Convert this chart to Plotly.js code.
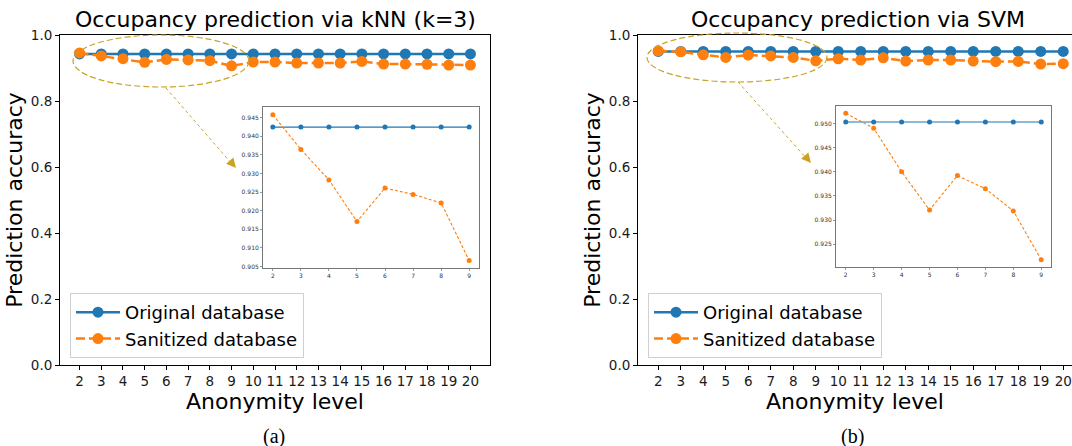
<!DOCTYPE html>
<html>
<head>
<meta charset="utf-8">
<script src="https://cdn.plot.ly/plotly-3.0.1.min.js"></script>
<style>html,body{margin:0;padding:0;background:#fff;}#chart{width:1072px;height:446px;}</style>
</head>
<body>
<div id="chart"></div>
<script>
// ---------- data ----------
const anonymityLevels = [2, 3, 4, 5, 6, 7, 8, 9, 10, 11, 12, 13, 14, 15, 16, 17, 18, 19, 20];
const knnOriginal  = [0.9425, 0.9425, 0.9425, 0.9425, 0.9425, 0.9425, 0.9425, 0.9425, 0.9425, 0.9425,
                      0.9425, 0.9425, 0.9425, 0.9425, 0.9425, 0.9425, 0.9425, 0.9425, 0.9425];
const knnSanitized = [0.9458, 0.9365, 0.9283, 0.9171, 0.9261, 0.9244, 0.9221, 0.9066, 0.918, 0.918,
                      0.915, 0.915, 0.915, 0.920, 0.912, 0.912, 0.911, 0.909, 0.909];
const svmOriginal  = [0.9503, 0.9503, 0.9503, 0.9503, 0.9503, 0.9503, 0.9503, 0.9503, 0.9503, 0.9503,
                      0.9503, 0.9503, 0.9503, 0.9503, 0.9503, 0.9503, 0.9503, 0.9503, 0.9503];
const svmSanitized = [0.9521, 0.9490, 0.9400, 0.9321, 0.9392, 0.9365, 0.9319, 0.9218, 0.928, 0.924,
                      0.931, 0.921, 0.924, 0.924, 0.921, 0.919, 0.920, 0.912, 0.913];
const insetCount = 8; // zoomed view shows anonymity levels 2..9
const mainYTicks = [0.0, 0.2, 0.4, 0.6, 0.8, 1.0];
const mainYTickLabels = ['0.0', '0.2', '0.4', '0.6', '0.8', '1.0'];
const knnInsetYTicks = [0.905, 0.910, 0.915, 0.920, 0.925, 0.930, 0.935, 0.940, 0.945];
const svmInsetYTicks = [0.925, 0.930, 0.935, 0.940, 0.945, 0.950];
const seriesNames = ['Original database', 'Sanitized database'];
const titles = ['Occupancy prediction via kNN (k=3)', 'Occupancy prediction via SVM'];
const captions = ['(a)', '(b)'];

// ---------- style ----------
const W = 1072, H = 446;
const BLUE = '#1f77b4', ORANGE = '#ff7f0e', GOLD = '#c9a227';
const FONT = 'DejaVu Sans, sans-serif';
const px = x => x / W;
const py = y => 1 - y / H;

const insetLevels = anonymityLevels.slice(0, insetCount);

function mainTrace(y, name, color, dash, xa, ya, legend) {
  return {x: anonymityLevels, y: y, name: name, type: 'scatter', mode: 'lines+markers',
    xaxis: xa, yaxis: ya, legend: legend,
    line: {color: color, width: 2.5, dash: dash}, marker: {color: color, size: 11}};
}
function insetTrace(y, color, dash, xa, ya) {
  return {x: insetLevels, y: y.slice(0, insetCount), type: 'scatter', mode: 'lines+markers',
    xaxis: xa, yaxis: ya, showlegend: false,
    line: {color: color, width: 1.1, dash: dash}, marker: {color: color, size: 5}};
}

const data = [
  mainTrace(knnOriginal, seriesNames[0], BLUE, 'solid', 'x', 'y', 'legend'),
  mainTrace(knnSanitized, seriesNames[1], ORANGE, '9px,4px', 'x', 'y', 'legend'),
  mainTrace(svmOriginal, seriesNames[0], BLUE, 'solid', 'x2', 'y2', 'legend2'),
  mainTrace(svmSanitized, seriesNames[1], ORANGE, '9px,4px', 'x2', 'y2', 'legend2'),
  insetTrace(knnOriginal, BLUE, 'solid', 'x3', 'y3'),
  insetTrace(knnSanitized, ORANGE, '3px,2px', 'x3', 'y3'),
  insetTrace(svmOriginal, BLUE, 'solid', 'x4', 'y4'),
  insetTrace(svmSanitized, ORANGE, '3px,2px', 'x4', 'y4')
];

const tickFont = {family: FONT, size: 13.5, color: '#1a1a1a'};
const titleFont = {family: FONT, size: 22, color: '#000'};
function mainX(domain, range, anchor, mirror) {
  return {domain: domain, range: range, anchor: anchor, tickvals: anonymityLevels,
    ticktext: anonymityLevels.map(String), ticks: 'outside', ticklen: 4, tickwidth: 1,
    tickcolor: '#000', showline: true, linecolor: '#000', linewidth: 1, mirror: mirror,
    showgrid: false, zeroline: false, tickfont: tickFont,
    title: {text: 'Anonymity level', font: titleFont, standoff: 3}};
}
function mainY(domain, anchor, mirror) {
  return {domain: domain, range: [0, 1], anchor: anchor, tickvals: mainYTicks, ticktext: mainYTickLabels,
    ticks: 'outside', ticklen: 4, tickwidth: 1, tickcolor: '#000', showline: true, linecolor: '#000',
    linewidth: 1, mirror: mirror, showgrid: false, zeroline: false, tickfont: tickFont,
    title: {text: 'Prediction accuracy', font: titleFont, standoff: 2}};
}
const insetTickFont = {family: FONT, size: 6, color: '#333'};
function insetX(domain, anchor) {
  return {domain: domain, range: [1.65, 9.35], anchor: anchor, tickvals: insetLevels,
    ticktext: insetLevels.map(String), ticks: 'outside', ticklen: 2, tickwidth: 0.6, tickcolor: '#555',
    showline: true, linecolor: '#777', linewidth: 1, mirror: true, showgrid: false, zeroline: false,
    tickfont: insetTickFont};
}
function insetY(domain, range, ticks, anchor) {
  return {domain: domain, range: range, anchor: anchor, tickvals: ticks,
    ticktext: ticks.map(v => v.toFixed(3)), ticks: 'outside', ticklen: 2, tickwidth: 0.6, tickcolor: '#555',
    showline: true, linecolor: '#777', linewidth: 1, mirror: true, showgrid: false, zeroline: false,
    tickfont: insetTickFont};
}

const legendStyle = (x) => ({x: x, y: py(293), xanchor: 'left', yanchor: 'top', bgcolor: '#fff',
  bordercolor: '#d0d0d0', borderwidth: 1, itemwidth: 44, font: {family: FONT, size: 18, color: '#000'}});

const mainYDomain = [py(365), py(35)];
const layout = {
  width: W, height: H, margin: {l: 0, r: 0, t: 0, b: 0},
  paper_bgcolor: '#fff', plot_bgcolor: 'rgba(0,0,0,0)',
  font: {family: FONT},
  xaxis: mainX([px(60), px(490)], [1.1, 20.9], 'y', true),
  yaxis: mainY(mainYDomain, 'x', true),
  xaxis2: mainX([px(638), 1], [1.1, 20.39], 'y2', true),
  yaxis2: mainY(mainYDomain, 'x2', false),
  xaxis3: insetX([px(263), px(479)], 'y3'),
  yaxis3: insetY([py(268), py(107)], [0.9046, 0.9479], knnInsetYTicks, 'x3'),
  xaxis4: insetX([px(836), px(1051)], 'y4'),
  yaxis4: insetY([py(267), py(106)], [0.9203, 0.9536], svmInsetYTicks, 'x4'),
  legend: legendStyle(px(70)),
  legend2: legendStyle(px(648)),
  annotations: [
    {text: titles[0], xref: 'paper', yref: 'paper', x: px(275), y: py(19), xanchor: 'center', yanchor: 'middle',
     showarrow: false, font: {family: FONT, size: 22, color: '#000'}},
    {text: titles[1], xref: 'paper', yref: 'paper', x: px(858), y: py(19), xanchor: 'center', yanchor: 'middle',
     showarrow: false, font: {family: FONT, size: 22, color: '#000'}},
    {text: captions[0], xref: 'paper', yref: 'paper', x: px(274), y: py(436), xanchor: 'center', yanchor: 'middle',
     showarrow: false, font: {family: 'Liberation Serif, serif', size: 20, color: '#000'}},
    {text: captions[1], xref: 'paper', yref: 'paper', x: px(852), y: py(436), xanchor: 'center', yanchor: 'middle',
     showarrow: false, font: {family: 'Liberation Serif, serif', size: 20, color: '#000'}},
    {text: '', xref: 'paper', yref: 'paper', x: px(236), y: py(168), ax: -6, ay: -7, showarrow: true,
     arrowhead: 2, arrowsize: 1.6, arrowwidth: 1.2, arrowcolor: GOLD},
    {text: '', xref: 'paper', yref: 'paper', x: px(811), y: py(163), ax: -6, ay: -7, showarrow: true,
     arrowhead: 2, arrowsize: 1.6, arrowwidth: 1.2, arrowcolor: GOLD}
  ],
  shapes: [
    {type: 'circle', xref: 'paper', yref: 'paper', x0: px(73), x1: px(249), y0: py(35), y1: py(87),
     line: {color: GOLD, width: 1.2, dash: '6px,3px'}},
    {type: 'circle', xref: 'paper', yref: 'paper', x0: px(647), x1: px(827), y0: py(33), y1: py(82),
     line: {color: GOLD, width: 1.2, dash: '6px,3px'}},
    {type: 'line', xref: 'paper', yref: 'paper', x0: px(166), y0: py(88), x1: px(232), y1: py(164),
     line: {color: GOLD, width: 1, dash: 'dot'}},
    {type: 'line', xref: 'paper', yref: 'paper', x0: px(738), y0: py(82), x1: px(807), y1: py(159),
     line: {color: GOLD, width: 1, dash: 'dot'}}
  ]
};

Plotly.newPlot('chart', data, layout, {staticPlot: true, displayModeBar: false});
</script>
</body>
</html>
